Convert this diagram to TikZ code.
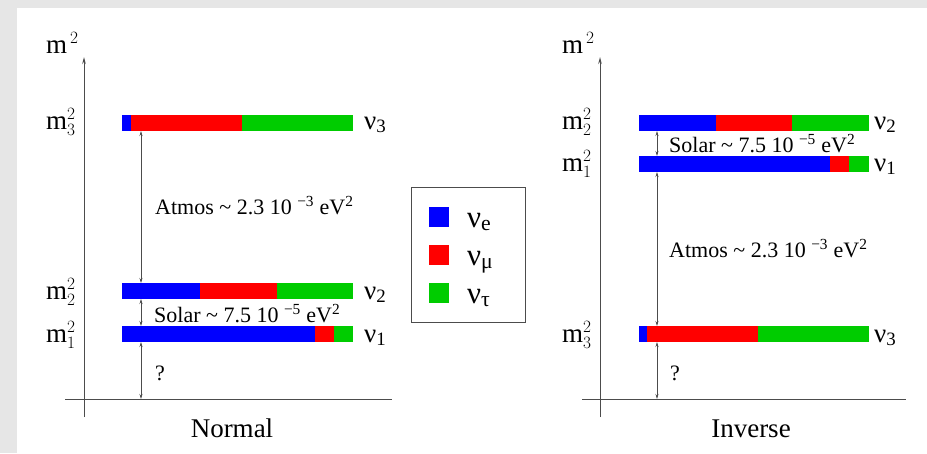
\documentclass[tikz,border=0pt]{standalone}
\usepackage{fontspec}
\setmainfont{Liberation Serif}
\usetikzlibrary{positioning,arrows.meta}
\definecolor{nue}{RGB}{0,0,255}
\definecolor{num}{RGB}{255,0,0}
\definecolor{nut}{RGB}{0,204,0}
\definecolor{frame}{RGB}{230,230,230}

\begin{document}
\begin{tikzpicture}[
    x=1pt, y=-1pt,
    >={Stealth[length=7pt,width=3.5pt]},
    seg/.style={rectangle, inner sep=0pt, outer sep=0pt, minimum height=16pt},
    axis/.style={draw=black!70, line width=1pt},
    gap/.style={draw=black!70, line width=0.7pt, {Stealth[length=5pt,width=3pt]}-{Stealth[length=5pt,width=3pt]}},
    lbl/.style={inner sep=0pt, anchor=base west, font=\fontsize{27}{30}\selectfont},
    key/.style={inner sep=0pt, anchor=base west, font=\fontsize{31}{34}\selectfont},
    note/.style={inner sep=0pt, anchor=base west, font=\fontsize{22}{26}\selectfont}
  ]
  \useasboundingbox (0,0) rectangle (927,453);
  \fill[frame] (0,0) rectangle (927,453);
  \fill[white] (17,8) rectangle (927,453);

  % normal ordering
  \coordinate (lb) at (84,417);
  \coordinate (lt) at (84,57);
  \coordinate (ll) at (65,399);
  \coordinate (lr) at (392,399);
  \coordinate (lc) at (141,399);
  \draw[axis,->] (lb) -- (lt);
  \draw[axis] (ll) -- (lr);

  \node[seg, fill=nue, minimum width=9pt, anchor=west] (n3e) at (122,123) {};
  \node[seg, fill=num, minimum width=111pt, right=0pt of n3e] (n3m) {};
  \node[seg, fill=nut, minimum width=111pt, right=0pt of n3m] (n3t) {};

  \node[seg, fill=nue, minimum width=78pt, anchor=west] (n2e) at (122,291) {};
  \node[seg, fill=num, minimum width=77pt, right=0pt of n2e] (n2m) {};
  \node[seg, fill=nut, minimum width=76pt, right=0pt of n2m] (n2t) {};

  \node[seg, fill=nue, minimum width=193pt, anchor=west] (n1e) at (122,334) {};
  \node[seg, fill=num, minimum width=19pt, right=0pt of n1e] (n1m) {};
  \node[seg, fill=nut, minimum width=19pt, right=0pt of n1m] (n1t) {};

  \draw[gap] (n3m.south -| lc) -- (n2e.north -| lc);
  \draw[gap] (n2e.south -| lc) -- (n1e.north -| lc);
  \draw[gap] (n1e.south -| lc) -- (lc);

  \node[lbl] (lm)  at (46,53)  {m$^{\,2}$};
  \node[lbl] (lm3) at (46,129) {m$_3^2$};
  \node[lbl] (lm2) at (46,299) {m$_2^2$};
  \node[lbl] (lm1) at (46,342) {m$_1^2$};
  \node[lbl] (lv3) at (364,129) {ν\textsubscript{3}};
  \node[lbl] (lv2) at (364,299) {ν\textsubscript{2}};
  \node[lbl] (lv1) at (364,342) {ν\textsubscript{1}};
  \node[note] (latm) at (155,214) {Atmos \textasciitilde{} 2.3 10 \textsuperscript{−3} eV\textsuperscript{2}};
  \node[note] (lsol) at (154,322) {Solar \textasciitilde{} 7.5 10 \textsuperscript{−5} eV\textsuperscript{2}};
  \node[note] (lq)   at (155,380) {?};
  \node[lbl, anchor=base] (lname) at (232,437) {Normal};

  % legend
  \node[draw=black!70, line width=0.8pt, minimum width=114pt, minimum height=135pt, inner sep=0pt] (leg) at (468,254.5) {};
  \node[seg, fill=nue, minimum width=20pt, minimum height=20pt] (ke) at (439,217) {};
  \node[seg, fill=num, minimum width=20pt, minimum height=20pt] (km) at (439,255) {};
  \node[seg, fill=nut, minimum width=20pt, minimum height=20pt] (kt) at (439,293) {};
  \node[key] (ve) at (467,227) {ν\textsubscript{e}};
  \node[key] (vm) at (467,265) {ν\textsubscript{μ}};
  \node[key] (vt) at (467,303) {ν\textsubscript{τ}};

  % inverse ordering
  \coordinate (rb) at (600,417);
  \coordinate (rt) at (600,57);
  \coordinate (rl) at (582,399);
  \coordinate (rr) at (906,399);
  \coordinate (rc) at (657,399);
  \draw[axis,->] (rb) -- (rt);
  \draw[axis] (rl) -- (rr);

  \node[seg, fill=nue, minimum width=77pt, anchor=west] (r2e) at (639,123) {};
  \node[seg, fill=num, minimum width=76pt, right=0pt of r2e] (r2m) {};
  \node[seg, fill=nut, minimum width=77pt, right=0pt of r2m] (r2t) {};

  \node[seg, fill=nue, minimum width=191pt, anchor=west] (r1e) at (639,164) {};
  \node[seg, fill=num, minimum width=19pt, right=0pt of r1e] (r1m) {};
  \node[seg, fill=nut, minimum width=20pt, right=0pt of r1m] (r1t) {};

  \node[seg, fill=nue, minimum width=8pt, anchor=west] (r3e) at (639,334) {};
  \node[seg, fill=num, minimum width=111pt, right=0pt of r3e] (r3m) {};
  \node[seg, fill=nut, minimum width=111pt, right=0pt of r3m] (r3t) {};

  \draw[gap] (r2e.south -| rc) -- (r1e.north -| rc);
  \draw[gap] (r1e.south -| rc) -- (r3m.north -| rc);
  \draw[gap] (r3m.south -| rc) -- (rc);

  \node[lbl] (rm)  at (562,53)  {m$^{\,2}$};
  \node[lbl] (rm2) at (562,129) {m$_2^2$};
  \node[lbl] (rm1) at (562,171) {m$_1^2$};
  \node[lbl] (rm3) at (562,342) {m$_3^2$};
  \node[lbl] (rv2) at (874,129) {ν\textsubscript{2}};
  \node[lbl] (rv1) at (874,171) {ν\textsubscript{1}};
  \node[lbl] (rv3) at (874,342) {ν\textsubscript{3}};
  \node[note] (rsol) at (669,152) {Solar \textasciitilde{} 7.5 10 \textsuperscript{−5} eV\textsuperscript{2}};
  \node[note] (ratm) at (669,257) {Atmos \textasciitilde{} 2.3 10 \textsuperscript{−3} eV\textsuperscript{2}};
  \node[note] (rq)   at (670,380) {?};
  \node[lbl, anchor=base] (rname) at (751,437) {Inverse};
\end{tikzpicture}
\end{document}
